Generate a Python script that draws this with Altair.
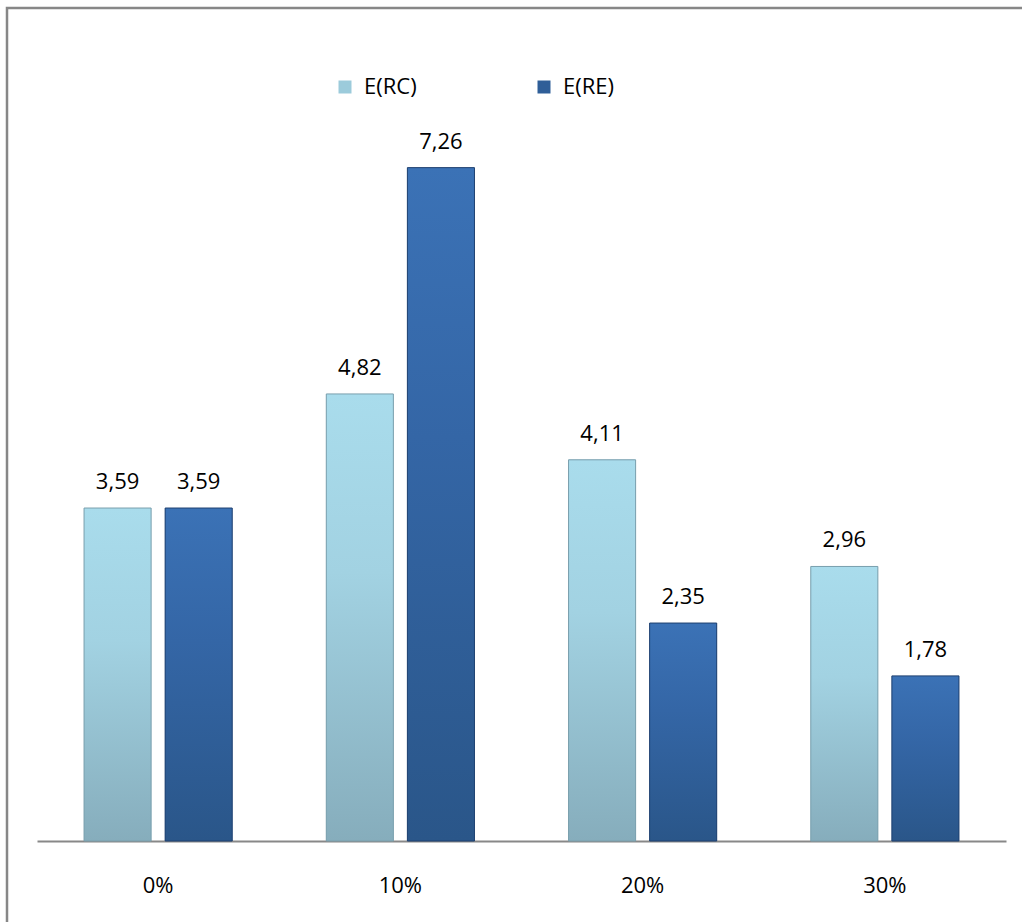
import altair as alt
import pandas as pd

categories = ["0%", "10%", "20%", "30%"]
series_names = ["E(RC)", "E(RE)"]
rc_values = [3.59, 4.82, 4.11, 2.96]
re_values = [3.59, 7.26, 2.35, 1.78]

rows = []
for c, v in zip(categories, rc_values):
    rows.append({"cat": c, "series": series_names[0], "value": v})
for c, v in zip(categories, re_values):
    rows.append({"cat": c, "series": series_names[1], "value": v})
df = pd.DataFrame(rows)

FONT = "Open Sans"
FS = 22

x_enc = alt.X(
    "cat:N",
    sort=categories,
    scale=alt.Scale(paddingInner=0, paddingOuter=0),
    axis=alt.Axis(
        title=None, labelAngle=0, ticks=False, tickSize=0, grid=False,
        domainColor="#888888", domainWidth=2,
        labelFont=FONT, labelFontSize=FS, labelColor="black",
        labelBaseline="alphabetic", labelPadding=51,
    ),
)
xoff_enc = alt.XOffset(
    "series:N", sort=series_names,
    scale=alt.Scale(paddingInner=0.173, paddingOuter=0.58),
)
y_enc = alt.Y("value:Q", scale=alt.Scale(domain=[0, 8]), axis=None)

base = alt.Chart(df)

legend_layer = base.mark_bar().encode(
    x=x_enc, xOffset=xoff_enc, y=y_enc,
    color=alt.Color(
        "series:N", sort=series_names,
        scale=alt.Scale(domain=series_names, range=["#9ccbdb", "#2f5e98"]),
        legend=alt.Legend(
            title=None, orient="none", direction="horizontal",
            legendX=297, legendY=-23, symbolType="square", symbolSize=169,
            symbolStrokeWidth=0, labelFont=FONT, labelFontSize=FS,
            labelColor="black", labelOffset=8, columnPadding=116, padding=0,
        ),
    ),
)

rc_grad = alt.LinearGradient(
    gradient="linear", x1=0, x2=0, y1=0, y2=1,
    stops=[alt.GradientStop(color="#a9dcec", offset=0),
           alt.GradientStop(color="#a2d2e2", offset=0.4),
           alt.GradientStop(color="#86adbc", offset=1)],
)
re_grad = alt.LinearGradient(
    gradient="linear", x1=0, x2=0, y1=0, y2=1,
    stops=[alt.GradientStop(color="#3b72b6", offset=0),
           alt.GradientStop(color="#3466a6", offset=0.4),
           alt.GradientStop(color="#2a5689", offset=1)],
)

rc_layer = base.transform_filter(alt.datum.series == series_names[0]).mark_bar(
    fill=rc_grad, stroke="#7a9fad", strokeWidth=1
).encode(x=x_enc, xOffset=xoff_enc, y=y_enc)

re_layer = base.transform_filter(alt.datum.series == series_names[1]).mark_bar(
    fill=re_grad, stroke="#1f4170", strokeWidth=1
).encode(x=x_enc, xOffset=xoff_enc, y=y_enc)

labels = base.transform_calculate(
    label="replace(format(datum.value, '.2f'), '.', ',')"
).mark_text(
    font=FONT, fontSize=FS, color="black", baseline="alphabetic", dy=-19
).encode(x=x_enc, xOffset=xoff_enc, y=y_enc, text="label:N")

frame = alt.Chart(pd.DataFrame({"a": [0]})).mark_rect(
    fill=None, stroke="#878787", strokeWidth=2.5
).encode(
    x=alt.value(-30), x2=alt.value(990),
    y=alt.value(-91), y2=alt.value(828),
)

chart = alt.layer(legend_layer, rc_layer, re_layer, labels, frame).properties(
    width=969, height=742,
    autosize=alt.AutoSizeParams(type="none"),
    padding={"left": 37, "top": 99, "right": 16, "bottom": 81},
    background="white",
).configure_view(stroke=None)

chart.save("out.html", embed_options={"renderer": "svg", "actions": False})
